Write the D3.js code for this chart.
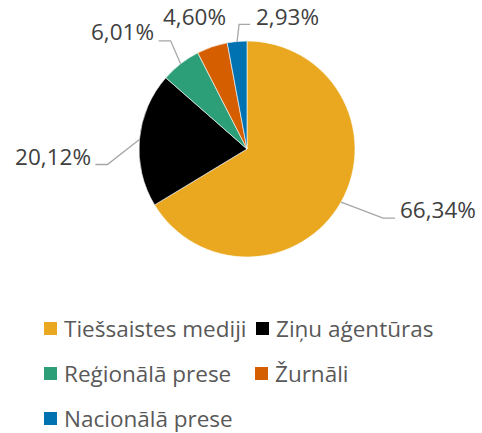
<!DOCTYPE html>
<html>
<head>
<meta charset="utf-8">
<script src="https://cdn.jsdelivr.net/npm/d3@7"></script>
<style>
  body { margin: 0; background: #fff; }
  svg { display: block; font-family: "Open Sans", "Noto Sans", sans-serif; }
</style>
</head>
<body>
<svg id="chart" width="482" height="433"></svg>
<script>
const categories = ['Tiešsaistes mediji', 'Ziņu aģentūras', 'Reģionālā prese', 'Žurnāli', 'Nacionālā prese'];
const shares = [66.34, 20.12, 6.01, 4.60, 2.93];
const colors = ['#E9A81F', '#000000', '#2C9F78', '#D55E00', '#0072B2'];

// label placement (elbow offset from slice edge, text anchor point)
const labelLayout = [
  { elbow: [42, 16], run: 12, text: [400, 218], line: true },
  { elbow: [-32, 25], run: -12, text: [91, 165], line: true, anchor: 'end' },
  { elbow: [-10, -23], run: -12, text: [154, 40], line: true, anchor: 'end' },
  { text: [163, 25], line: false },
  { elbow: [2, -17], run: 11, text: [256, 25], line: true }
];

const svg = d3.select('#chart');
const cx = 247, cy = 149, radius = 108;

const data = categories.map((c, i) => ({ name: c, value: shares[i], color: colors[i] }));

const pie = d3.pie()
  .sort(null)
  .value(d => d.value);

const arc = d3.arc()
  .innerRadius(0)
  .outerRadius(radius);

const arcs = pie(data);

const g = svg.append('g')
  .attr('transform', `translate(${cx}, ${cy})`);

g.selectAll('path.slice')
  .data(arcs)
  .enter()
  .append('path')
  .attr('class', 'slice')
  .attr('d', arc)
  .attr('fill', d => d.data.color)
  .attr('stroke', '#fff')
  .attr('stroke-width', 0.6);

const fmt = v => v.toFixed(2).replace('.', ',') + '%';

// leader lines
arcs.forEach((a, i) => {
  const lay = labelLayout[i];
  if (!lay.line) return;
  const mid = (a.startAngle + a.endAngle) / 2;
  const x0 = cx + radius * Math.sin(mid);
  const y0 = cy - radius * Math.cos(mid);
  const x1 = x0 + lay.elbow[0];
  const y1 = y0 + lay.elbow[1];
  svg.append('polyline')
    .attr('points', `${x0},${y0} ${x1},${y1} ${x1 + lay.run},${y1}`)
    .attr('fill', 'none')
    .attr('stroke', '#A6A6A6')
    .attr('stroke-width', 1.3);
});

svg.selectAll('text.lbl')
  .data(arcs)
  .enter()
  .append('text')
  .attr('class', 'lbl')
  .attr('x', (d, i) => labelLayout[i].text[0])
  .attr('y', (d, i) => labelLayout[i].text[1])
  .attr('text-anchor', (d, i) => labelLayout[i].anchor || 'start')
  .attr('font-size', 22.5)
  .attr('fill', '#404040')
  .text(d => fmt(d.data.value));

// legend
const legendPos = [[44, 329], [256, 329], [44, 374], [255, 374], [44, 419]];
const legend = svg.selectAll('g.leg')
  .data(data)
  .enter()
  .append('g')
  .attr('class', 'leg')
  .attr('transform', (d, i) => `translate(${legendPos[i][0]}, ${legendPos[i][1]})`);

legend.append('rect')
  .attr('x', 0)
  .attr('y', -7)
  .attr('width', 13)
  .attr('height', 13)
  .attr('fill', d => d.color);

legend.append('text')
  .attr('x', 20)
  .attr('y', 8)
  .attr('font-size', 22.5)
  .attr('fill', '#595959')
  .text(d => d.name);
</script>
</body>
</html>
